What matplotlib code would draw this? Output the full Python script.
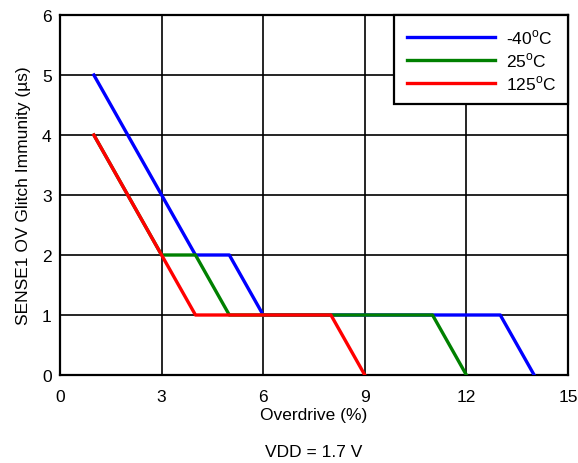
import matplotlib
matplotlib.use("Agg")
import matplotlib.pyplot as plt

plt.rcParams['font.family'] = ['Liberation Sans', 'DejaVu Sans']
plt.rcParams['mathtext.fontset'] = 'custom'
plt.rcParams['mathtext.rm'] = 'Liberation Sans'

x_m40 = [1, 3, 4, 5, 6, 13, 14]
y_m40 = [5, 3, 2, 2, 1, 1, 0]
x_25 = [1, 3, 4, 5, 11, 12]
y_25 = [4, 2, 2, 1, 1, 0]
x_125 = [1, 3, 4, 8, 9]
y_125 = [4, 2, 1, 1, 0]
labels = ['-40$^\\mathregular{o}$C', '25$^\\mathregular{o}$C', '125$^\\mathregular{o}$C']
xticks = [0, 3, 6, 9, 12, 15]
yticks = [0, 1, 2, 3, 4, 5, 6]

fs = 12.5
fig = plt.figure(figsize=(5.78, 4.64), dpi=100)
ax = fig.add_axes([60/578, 1-376/464, (568-60)/578, (376-16)/464])
ax.plot(x_m40, y_m40, color='#0000ff', lw=2.4, label=labels[0], zorder=3)
ax.plot(x_25, y_25, color='#008000', lw=2.4, label=labels[1], zorder=4)
ax.plot(x_125, y_125, color='#ff0000', lw=2.4, label=labels[2], zorder=5)
ax.set_xlim(0, 15)
ax.set_ylim(0, 6)
ax.set_xticks(xticks)
ax.set_yticks(yticks)
ax.grid(True, color='black', lw=1.2)
ax.tick_params(length=0, labelsize=fs)
ax.tick_params(axis='x', pad=10)
ax.tick_params(axis='y', pad=6)
for s in ax.spines.values():
    s.set_color('black'); s.set_linewidth(1.6)
ax.set_xlabel('Overdrive (%)', fontsize=fs, labelpad=2)
ax.set_ylabel('SENSE1 OV Glitch Immunity (µs)', fontsize=fs, labelpad=8)
leg = ax.legend(loc='upper right', fontsize=fs, frameon=True, fancybox=False,
                handlelength=5.1, borderaxespad=0, labelspacing=0.25,
                borderpad=0.7, handletextpad=0.6, framealpha=1)
leg.get_frame().set_edgecolor('black')
leg.get_frame().set_linewidth(1.6)
fig.text(314/578, 1-453/464, 'VDD = 1.7 V', ha='center', va='center', fontsize=fs)
fig.savefig('out.png', dpi=100)
